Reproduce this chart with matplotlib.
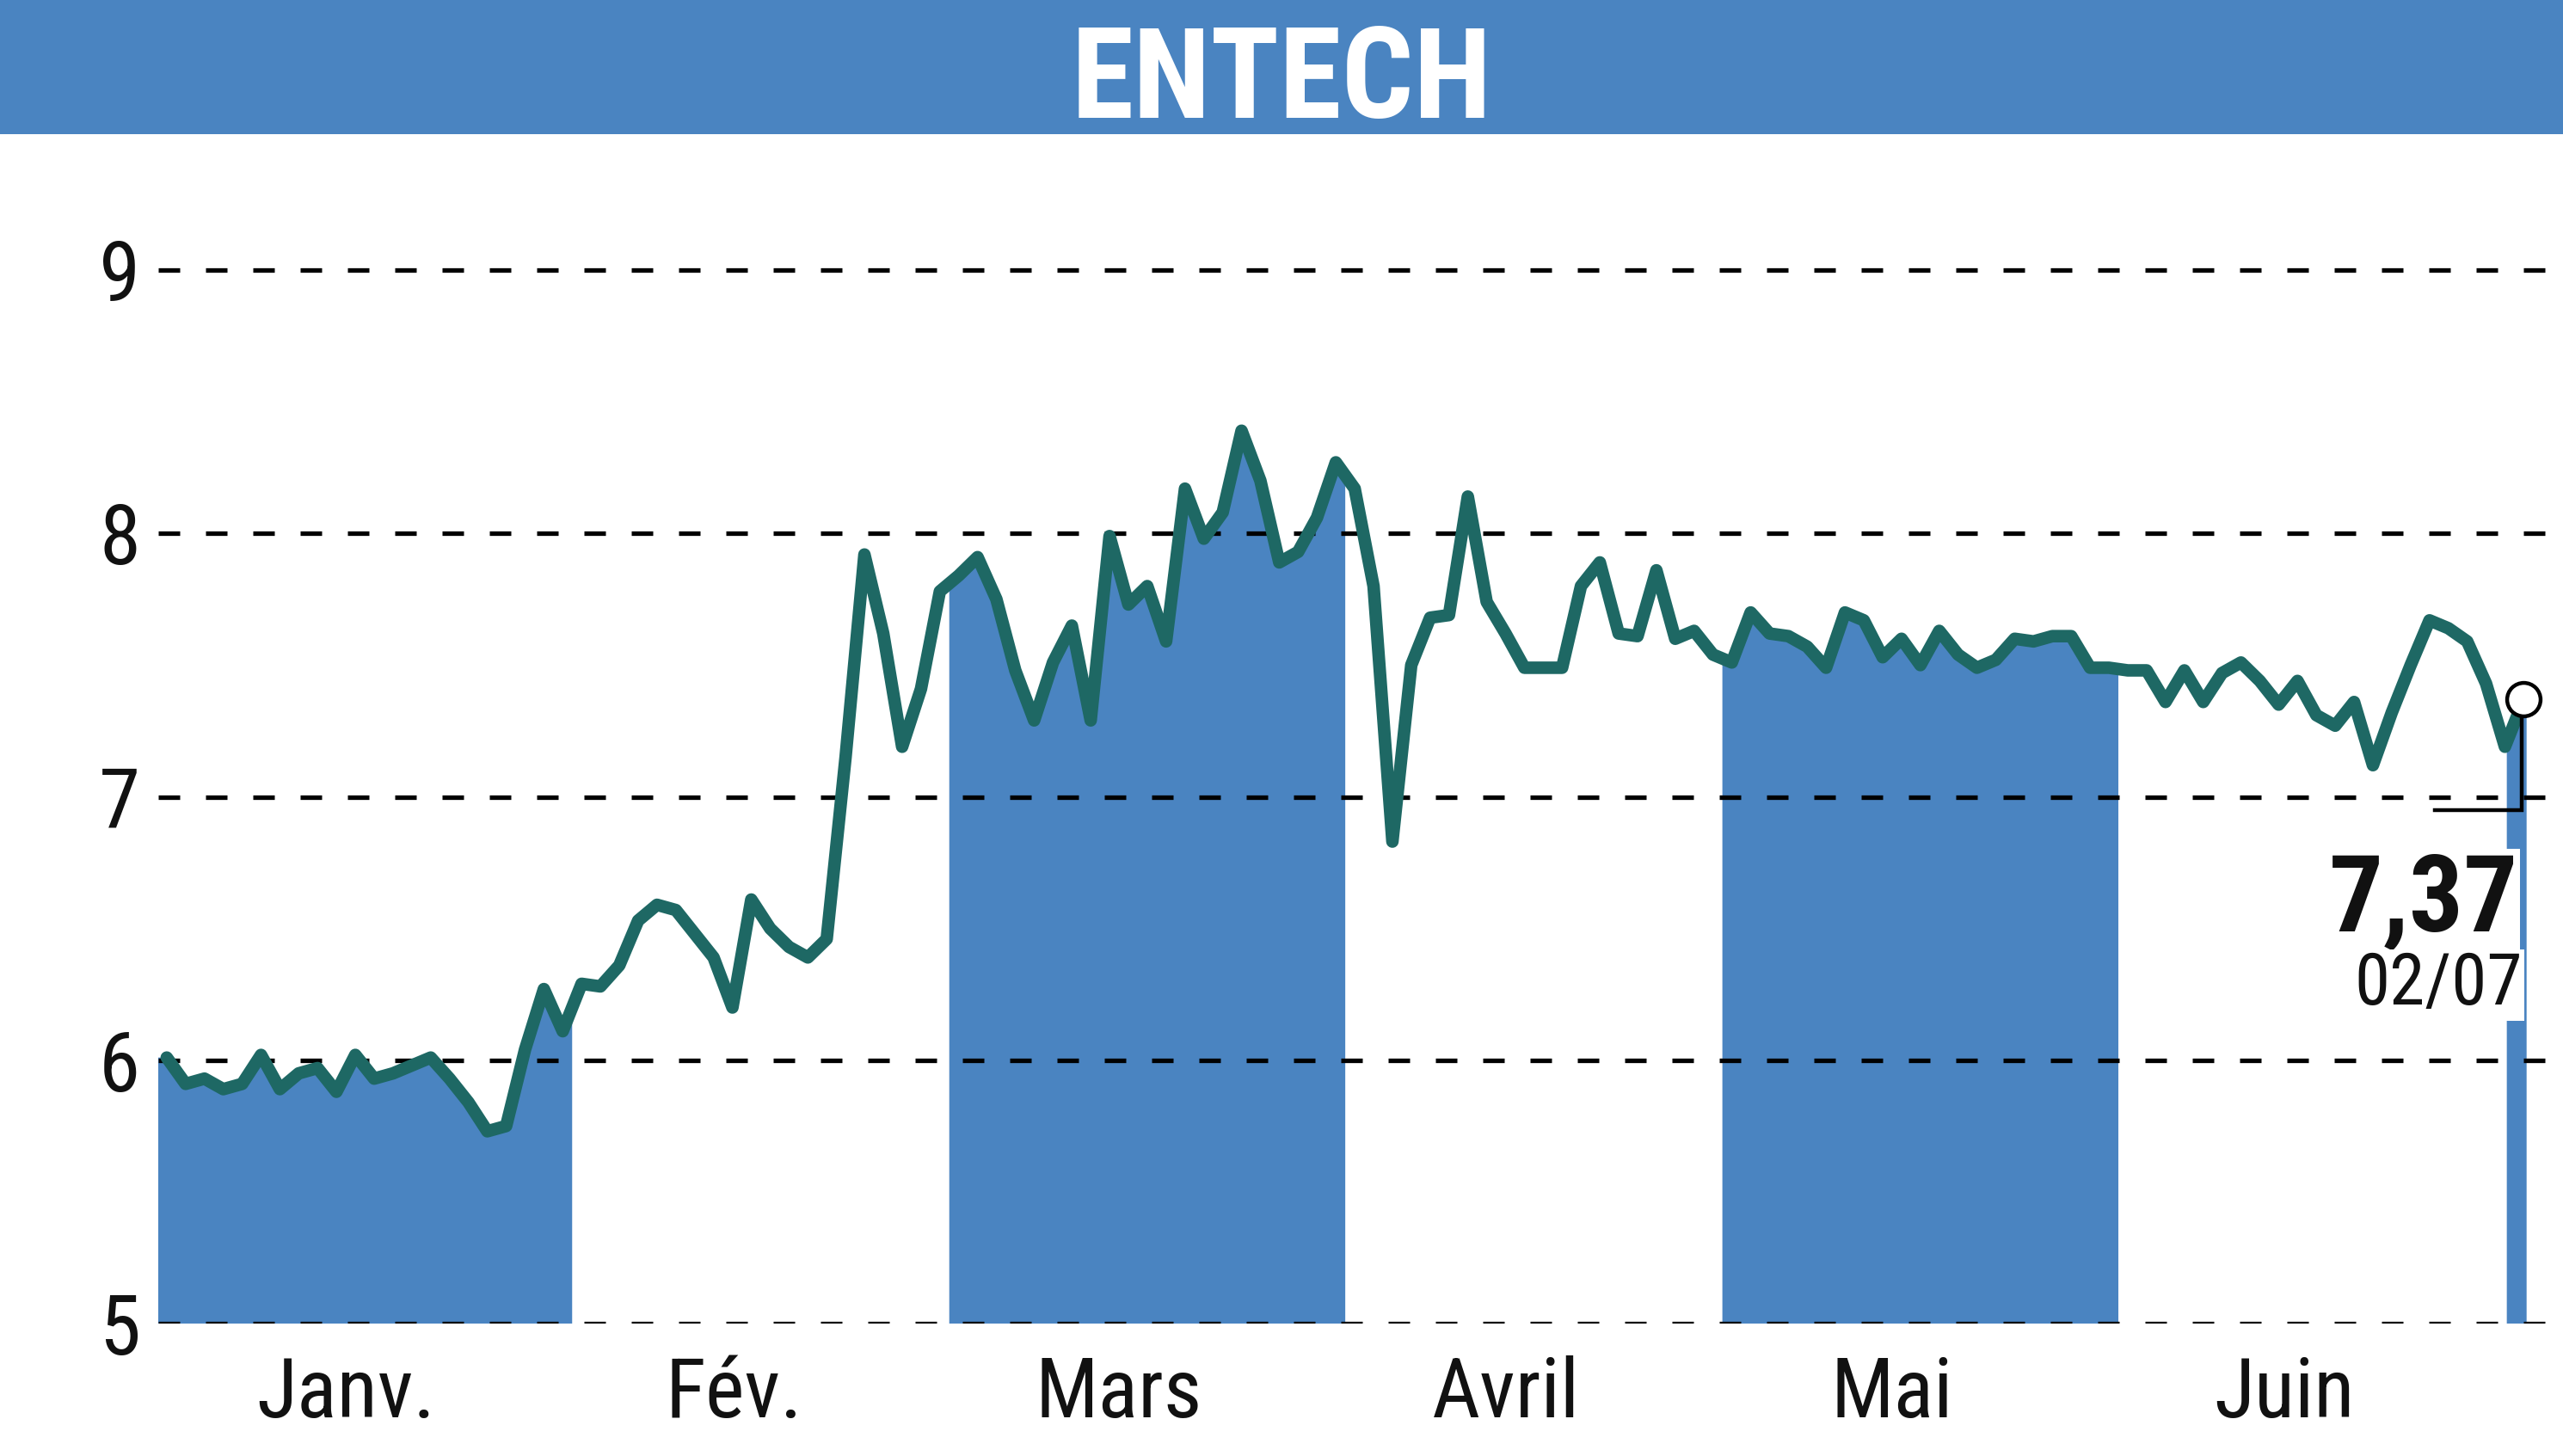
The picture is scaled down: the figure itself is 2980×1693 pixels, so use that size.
import numpy as np
import matplotlib
matplotlib.use("Agg")
import matplotlib.pyplot as plt
from matplotlib import font_manager
from matplotlib.font_manager import FontProperties
from matplotlib.patches import Rectangle
from matplotlib.transforms import blended_transform_factory

# ---------------- data ----------------
title = "ENTECH"
month_labels = ["Janv.", "Fév.", "Mars", "Avril", "Mai", "Juin"]
month_label_pos = [9.5, 30.1, 50.5, 71.0, 91.5, 112.3]
y_ticks = [5, 6, 7, 8, 9]

jan = [6.01, 5.91, 5.93, 5.89, 5.91, 6.02, 5.89, 5.95, 5.97, 5.88, 6.02,
       5.93, 5.95, 5.98, 6.01, 5.93, 5.84, 5.73, 5.75, 6.04, 6.27, 6.11]
feb = [6.29, 6.28, 6.36, 6.53, 6.59, 6.57, 6.48, 6.39, 6.20, 6.61, 6.50,
       6.43, 6.39, 6.46, 7.15, 7.92, 7.62, 7.19, 7.41, 7.78]
mar = [7.84, 7.91, 7.75, 7.48, 7.29, 7.51, 7.65, 7.29, 7.99, 7.73, 7.80,
       7.59, 8.17, 7.98, 8.08, 8.39, 8.20, 7.89, 7.93, 8.06, 8.27]
apr = [8.17, 7.80, 6.83, 7.50, 7.68, 7.69, 8.14, 7.74, 7.62, 7.49, 7.49,
       7.49, 7.80, 7.89, 7.62, 7.61, 7.86, 7.60, 7.63, 7.54]
may = [7.51, 7.70, 7.62, 7.61, 7.57, 7.49, 7.70, 7.67, 7.53, 7.60, 7.50,
       7.63, 7.54, 7.49, 7.52, 7.60, 7.59, 7.61, 7.61, 7.49, 7.49]
jun = [7.48, 7.48, 7.36, 7.48, 7.36, 7.47, 7.51, 7.44, 7.35, 7.44, 7.31,
       7.27, 7.36, 7.12, 7.32, 7.50, 7.67, 7.64, 7.59, 7.43, 7.19]
jul = [7.37]
last_value_label = "7,37"
last_date_label = "02/07"
callout_low = 6.95
callout_left = 120.3

months = [jan, feb, mar, apr, may, jun, jul]
filled = [True, False, True, False, True, False, True]

# ---------------- fonts ----------------
def find_font(bold):
    ttf = font_manager.fontManager.ttflist
    def ok_weight(f):
        w = f.weight if isinstance(f.weight, int) else 400
        return (w >= 600) if bold else (w < 600)
    narrow_pref = ["Liberation Sans Narrow", "Roboto Condensed", "Open Sans Condensed",
                   "Noto Sans Condensed", "DejaVu Sans Condensed"]
    for n in narrow_pref:
        for f in ttf:
            if f.name == n and f.style == "normal" and ok_weight(f):
                return f.fname, True
    for f in ttf:
        if f.style == "normal" and ok_weight(f) and (
                "condensed" in str(f.stretch) or "Narrow" in f.name or "Condensed" in f.name):
            if f.name.startswith(("DejaVu", "Roboto", "Noto Sans", "Open Sans", "Liberation", "Lato", "Inter")):
                return f.fname, True
    for n in ["Roboto", "Liberation Sans", "DejaVu Sans"]:
        for f in ttf:
            if f.name == n and f.style == "normal" and ok_weight(f):
                return f.fname, False
    return None, False

REG, reg_narrow = find_font(False)
BOLD, bold_narrow = find_font(True)
k_reg = 1.0 if reg_narrow else 0.86
k_bold = 1.0 if bold_narrow else 0.86

def fp(bold, size):
    path = BOLD if bold else REG
    k = k_bold if bold else k_reg
    if path:
        return FontProperties(fname=path, size=size * k)
    return FontProperties(family="DejaVu Sans", weight="bold" if bold else "normal", size=size * k)

# ---------------- style ----------------
BLUE = "#4a84c1"
LINE = "#1e6864"
plt.rcParams["lines.scale_dashes"] = False

W, H = 2980, 1693
fig = plt.figure(figsize=(W / 100, H / 100), dpi=100)

# title bar
bar_h = 156 / H
fig.patches.append(Rectangle((0, 1 - bar_h), 1, bar_h, transform=fig.transFigure,
                             facecolor=BLUE, edgecolor="none", zorder=0))
fig.text(0.5, 1 - 137 / H, title, ha="center", va="baseline", color="white",
         fontproperties=fp(True, 106))

ax = fig.add_axes([184 / W, 154 / H, 1 - 184 / W, 4.4 * 306.25 / H])
y = np.concatenate([np.asarray(m, float) for m in months])
x = np.arange(len(y))
ax.set_xlim(-0.45, 127.08)
ax.set_ylim(5, 9.4)

# month fills
start = 0
for i, (m, f) in enumerate(zip(months, filled)):
    s, e = start, start + len(m) - 1
    if f:
        last = i == len(months) - 1
        left = s - 0.9 if last else s - 0.5
        right = x[-1] + 0.15 if last else e + 0.5
        xs = np.concatenate([[left], np.arange(s, e + 1), [right]])
        ys = np.interp(xs, x, y)
        ax.fill_between(xs, 5, ys, facecolor=BLUE, edgecolor="none", zorder=1)
    start = e + 1

# dashed gridlines
for t in y_ticks:
    ax.axhline(t, color="black", lw=3.8, linestyle=(0, (18, 21.6)), zorder=2)

# price line
ax.plot(x, y, color=LINE, lw=10.5, solid_joinstyle="round", solid_capstyle="round", zorder=3)

# callout
ax.plot([x[-1] - 0.1, x[-1] - 0.1, callout_left], [y[-1], callout_low, callout_low],
        color="black", lw=3.2, solid_joinstyle="miter", zorder=4)
ax.plot([x[-1]], [y[-1]], marker="o", ms=28, mfc="white", mec="black", mew=3.2, zorder=5)

ax.text(x[-1] - 0.3, 6.49, last_value_label, ha="right", va="baseline",
        fontproperties=fp(True, 90), color="#111111", zorder=6,
        bbox=dict(facecolor="white", edgecolor="none", pad=2))
ax.text(x[-1] - 0.05, 6.21, last_date_label, ha="right", va="baseline",
        fontproperties=fp(False, 60), color="#111111", zorder=6,
        bbox=dict(facecolor="white", edgecolor="none", pad=1))

# axes cosmetics
for sp in ax.spines.values():
    sp.set_visible(False)
ax.set_yticks(y_ticks)
ax.set_yticklabels([str(t) for t in y_ticks], color="#111111")
for lab in ax.get_yticklabels():
    lab.set_fontproperties(fp(False, 70))
ax.tick_params(axis="y", length=0, pad=15)
ax.set_xticks([])
tr = blended_transform_factory(ax.transData, fig.transFigure)
for lab, p in zip(month_labels, month_label_pos):
    ax.text(p, 1 - 1648 / H, lab, transform=tr, ha="center", va="baseline",
            fontproperties=fp(False, 70), color="#111111", clip_on=False)

fig.savefig("out.png", dpi=100)
